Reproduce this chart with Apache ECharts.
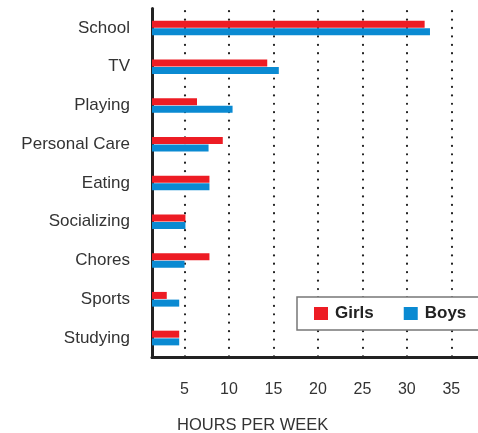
<!DOCTYPE html>
<html>
<head>
<meta charset="utf-8">
<script src="https://cdn.jsdelivr.net/npm/echarts@6.0.0/dist/echarts.min.js"></script>
<style>
    html, body { margin: 0; padding: 0; background: #fff; }
    #chart { width: 478px; height: 433px; }
</style>
</head>
<body>
<div id="chart"></div>
<script>
// activities, top to bottom
var categories = ['School', 'TV', 'Playing', 'Personal Care', 'Eating', 'Socializing', 'Chores', 'Sports', 'Studying'];
// hours per week
var girls = [32.0, 14.3, 6.4, 9.3, 7.8, 5.1, 7.8, 3.0, 4.4];
var boys = [32.6, 15.6, 10.4, 7.7, 7.8, 5.1, 5.0, 4.4, 4.4];
var tickValues = [5, 10, 15, 20, 25, 30, 35];

// the printed axis does not start at zero: the left rule sits a bit above 1
var axisStart = 1.34;
var axisEnd = 38;

var textColor = '#333';
var ruleColor = '#222';
var fontFamily = '"Liberation Sans", Arial, sans-serif';

var chart = echarts.init(document.getElementById('chart'), null, { renderer: 'canvas' });

chart.setOption({
    animation: false,
    backgroundColor: '#fff',
    title: {
        text: 'HOURS PER WEEK',
        left: 177,
        top: 417,
        padding: 0,
        textStyle: {
            fontFamily: fontFamily,
            fontSize: 16.5,
            fontWeight: 'normal',
            color: textColor
        }
    },
    legend: {
        data: ['Girls', 'Boys'],
        left: 297,
        top: 297,
        width: 200,
        icon: 'rect',
        itemWidth: 14,
        itemHeight: 13,
        itemGap: 30,
        // box runs off the right edge, as in the print
        padding: [8, 24, 8, 17],
        backgroundColor: '#fff',
        borderColor: '#777',
        borderWidth: 1.5,
        borderRadius: 0,
        textStyle: {
            fontFamily: fontFamily,
            fontSize: 17,
            fontWeight: 'bold',
            color: ruleColor,
            padding: [0, 0, 0, 2]
        }
    },
    grid: {
        left: 152,
        right: 0,
        top: 8.6,
        bottom: 75.6,
        containLabel: false
    },
    xAxis: {
        type: 'value',
        min: axisStart,
        max: axisEnd,
        axisLine: {
            show: true,
            lineStyle: { color: ruleColor, width: 3 }
        },
        axisTick: { show: false, customValues: tickValues },
        axisLabel: {
            customValues: tickValues,
            margin: 24,
            fontFamily: fontFamily,
            fontSize: 16,
            color: textColor
        },
        splitLine: {
            show: true,
            lineStyle: {
                color: ruleColor,
                width: 2.2,
                type: [0.1, 8.32],
                dashOffset: 5.9,
                cap: 'round'
            }
        }
    },
    yAxis: {
        type: 'category',
        inverse: true,
        data: categories,
        axisLine: {
            show: true,
            lineStyle: { color: ruleColor, width: 3 }
        },
        axisTick: { show: false },
        axisLabel: {
            margin: 22,
            fontFamily: fontFamily,
            fontSize: 17,
            color: textColor
        },
        splitLine: { show: false }
    },
    series: [
        {
            name: 'Girls',
            type: 'bar',
            data: girls,
            barWidth: 7,
            barGap: '10%',
            itemStyle: { color: '#ed1c24' }
        },
        {
            name: 'Boys',
            type: 'bar',
            data: boys,
            barWidth: 7,
            barGap: '10%',
            itemStyle: { color: '#0a8ad2' }
        }
    ]
});
</script>
</body>
</html>
